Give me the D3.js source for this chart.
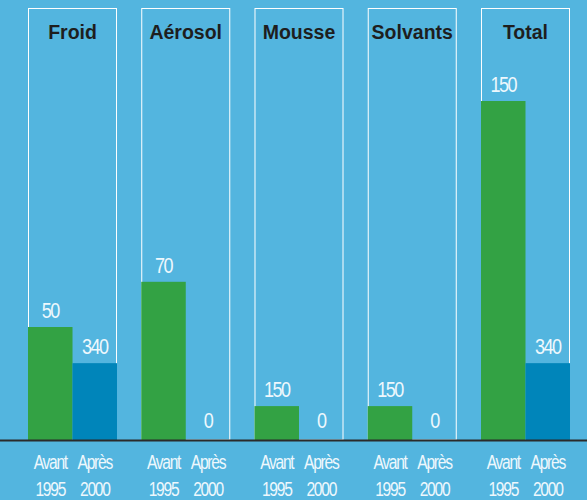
<!DOCTYPE html>
<html>
<head>
<meta charset="utf-8">
<script src="https://cdn.jsdelivr.net/npm/d3@7"></script>
<style>
  body { margin: 0; background: #53b5df; }
  svg { display: block; }
</style>
</head>
<body>
<svg width="587" height="500"></svg>
<script>
var categories = ["Froid", "Aérosol", "Mousse", "Solvants", "Total"];
var avant = [50, 70, 15, 15, 150];
var apres = [34, 0, 0, 0, 34];
var avantLabels = ["50", "70", "150", "150", "150"];
var apresLabels = ["340", "0", "0", "0", "340"];
var seriesNames = ["avant", "apres"];
var tickLines = [["Avant", "1995"], ["Après", "2000"]];

var svg = d3.select("svg"),
    width = +svg.attr("width"),
    height = +svg.attr("height"),
    baseY = 440;

var x = d3.scaleBand().domain(categories).range([28, 570]).paddingInner(0.214);
var xs = d3.scaleBand().domain(seriesNames).range([0, x.bandwidth()]);
var y = d3.scaleLinear().domain([0, 150]).range([baseY, 101]);
var color = d3.scaleOrdinal(seriesNames, ["#33a244", "#0085ba"]);

var data = categories.map((c, i) => ({
    cat: c,
    vals: [
        {key: "avant", value: avant[i], label: avantLabels[i]},
        {key: "apres", value: apres[i], label: apresLabels[i]}
    ]
}));

var panel = svg.selectAll(".panel")
    .data(data)
    .enter().append("g")
    .attr("class", "panel")
    .attr("transform", d => "translate(" + x(d.cat) + ",0)");

panel.append("rect")
    .attr("x", 0.5)
    .attr("y", 8.5)
    .attr("width", x.bandwidth() - 1)
    .attr("height", baseY - 8.5)
    .attr("fill", "none")
    .attr("stroke", "#ffffff")
    .attr("stroke-width", 1);

panel.append("text")
    .attr("x", x.bandwidth() / 2)
    .attr("y", 39)
    .attr("text-anchor", "middle")
    .attr("font-family", "Liberation Sans, Arial, sans-serif")
    .attr("font-weight", "bold")
    .attr("font-size", 19.5)
    .attr("fill", "#1e1e1e")
    .text(d => d.cat);

var bar = panel.selectAll(".bar")
    .data(d => d.vals)
    .enter().append("g")
    .attr("class", "bar");

bar.append("rect")
    .attr("x", d => xs(d.key))
    .attr("y", d => y(d.value))
    .attr("width", xs.bandwidth())
    .attr("height", d => baseY - y(d.value))
    .attr("fill", d => color(d.key));

// value labels, squeezed horizontally like the original
bar.append("text")
    .attr("transform", d => "translate(" + (xs(d.key) + xs.bandwidth() / 2) + "," + (y(d.value) - (d.value ? 9 : 12)) + ") scale(0.82,1)")
    .attr("text-anchor", "middle")
    .attr("font-family", "Liberation Sans, Arial, sans-serif")
    .attr("font-size", 22)
    .attr("letter-spacing", -1.8)
    .attr("fill", "#eef8fd")
    .text(d => d.label);

bar.each(function(d, i) {
    var cx = xs(d.key) + xs.bandwidth() / 2;
    tickLines[i].forEach((s, k) => {
        d3.select(this).append("text")
            .attr("transform", "translate(" + cx + "," + (469 + k * 27) + ") scale(0.8,1)")
            .attr("text-anchor", "middle")
            .attr("font-family", "Liberation Sans, Arial, sans-serif")
            .attr("font-size", 19.5)
            .attr("letter-spacing", -1.6)
            .attr("fill", "#eef8fd")
            .text(s);
    });
});

svg.append("line")
    .attr("x1", 0)
    .attr("x2", width)
    .attr("y1", baseY + 0.5)
    .attr("y2", baseY + 0.5)
    .attr("stroke", "#2b2b2b")
    .attr("stroke-width", 2);
</script>
</body>
</html>
